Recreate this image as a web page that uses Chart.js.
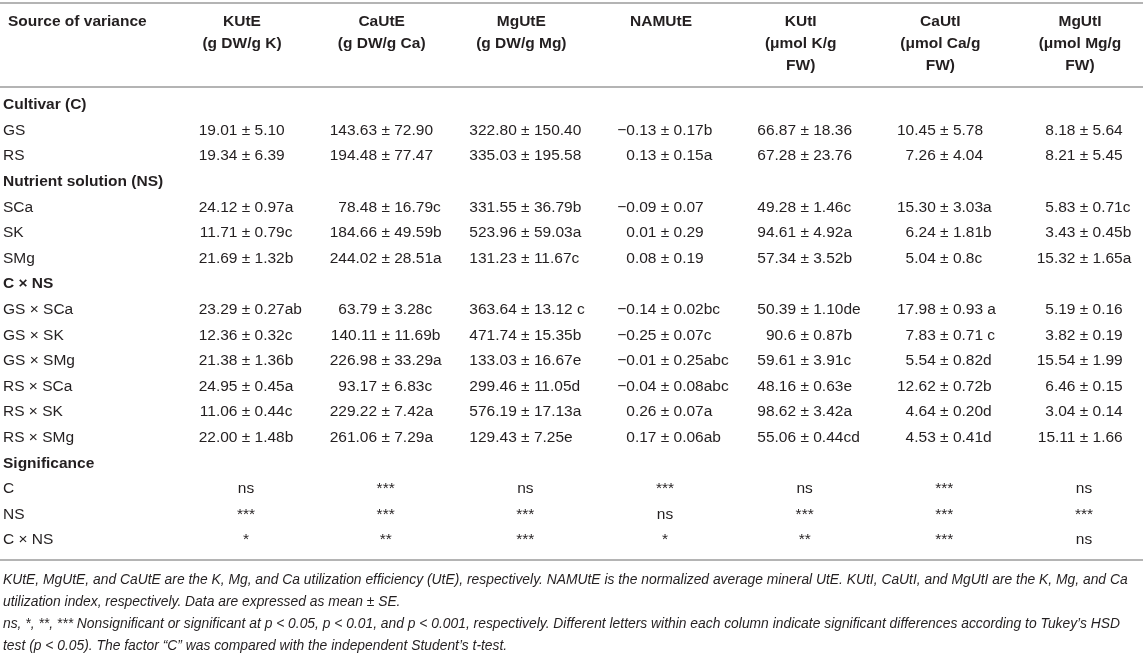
<!DOCTYPE html>
<html>
<head>
<meta charset="utf-8">
<script src="https://cdn.jsdelivr.net/npm/chart.js@4.4.0/dist/chart.umd.min.js"></script>
<style>
  body { margin: 0; background: #fff; }
  #wrap { width: 1143px; height: 667px; position: relative; }
</style>
</head>
<body>
<div id="wrap"><canvas id="tbl"></canvas></div>
<script>
// table content
var columns = ['KUtE', 'CaUtE', 'MgUtE', 'NAMUtE', 'KUtI', 'CaUtI', 'MgUtI'];
var headerLines = [
    ['KUtE', '(g DW/g K)'],
    ['CaUtE', '(g DW/g Ca)'],
    ['MgUtE', '(g DW/g Mg)'],
    ['NAMUtE'],
    ['KUtI', '(\u03bcmol K/g', 'FW)'],
    ['CaUtI', '(\u03bcmol Ca/g', 'FW)'],
    ['MgUtI', '(\u03bcmol Mg/g', 'FW)']
];
var rows = ['Cultivar (C)', 'GS', 'RS', 'Nutrient solution (NS)', 'SCa', 'SK', 'SMg', 'C \u00d7 NS',
    'GS \u00d7 SCa', 'GS \u00d7 SK', 'GS \u00d7 SMg', 'RS \u00d7 SCa', 'RS \u00d7 SK', 'RS \u00d7 SMg',
    'Significance', 'C', 'NS', 'C \u00d7 NS'];
var sectionRows = [0, 3, 7, 14];

var KUtE = [null, '19.01 ± 5.10', '19.34 ± 6.39', null, '24.12 ± 0.97a', '11.71 ± 0.79c', '21.69 ± 1.32b', null,
    '23.29 ± 0.27ab', '12.36 ± 0.32c', '21.38 ± 1.36b', '24.95 ± 0.45a', '11.06 ± 0.44c', '22.00 ± 1.48b', null,
    'ns', '***', '*'];
var CaUtE = [null, '143.63 ± 72.90', '194.48 ± 77.47', null, '78.48 ± 16.79c', '184.66 ± 49.59b', '244.02 ± 28.51a', null,
    '63.79 ± 3.28c', '140.11 ± 11.69b', '226.98 ± 33.29a', '93.17 ± 6.83c', '229.22 ± 7.42a', '261.06 ± 7.29a', null,
    '***', '***', '**'];
var MgUtE = [null, '322.80 ± 150.40', '335.03 ± 195.58', null, '331.55 ± 36.79b', '523.96 ± 59.03a', '131.23 ± 11.67c', null,
    '363.64 ± 13.12 c', '471.74 ± 15.35b', '133.03 ± 16.67e', '299.46 ± 11.05d', '576.19 ± 17.13a', '129.43 ± 7.25e', null,
    'ns', '***', '***'];
var NAMUtE = [null, '\u22120.13 ± 0.17b', '0.13 ± 0.15a', null, '\u22120.09 ± 0.07', '0.01 ± 0.29', '0.08 ± 0.19', null,
    '\u22120.14 ± 0.02bc', '\u22120.25 ± 0.07c', '\u22120.01 ± 0.25abc', '\u22120.04 ± 0.08abc', '0.26 ± 0.07a', '0.17 ± 0.06ab', null,
    '***', 'ns', '*'];
var KUtI = [null, '66.87 ± 18.36', '67.28 ± 23.76', null, '49.28 ± 1.46c', '94.61 ± 4.92a', '57.34 ± 3.52b', null,
    '50.39 ± 1.10de', '90.6 ± 0.87b', '59.61 ± 3.91c', '48.16 ± 0.63e', '98.62 ± 3.42a', '55.06 ± 0.44cd', null,
    'ns', '***', '**'];
var CaUtI = [null, '10.45 ± 5.78', '7.26 ± 4.04', null, '15.30 ± 3.03a', '6.24 ± 1.81b', '5.04 ± 0.8c', null,
    '17.98 ± 0.93 a', '7.83 ± 0.71 c', '5.54 ± 0.82d', '12.62 ± 0.72b', '4.64 ± 0.20d', '4.53 ± 0.41d', null,
    '***', '***', '***'];
var MgUtI = [null, '8.18 ± 5.64', '8.21 ± 5.45', null, '5.83 ± 0.71c', '3.43 ± 0.45b', '15.32 ± 1.65a', null,
    '5.19 ± 0.16', '3.82 ± 0.19', '15.54 ± 1.99', '6.46 ± 0.15', '3.04 ± 0.14', '15.11 ± 1.66', null,
    'ns', '***', 'ns'];
var columnValues = [KUtE, CaUtE, MgUtE, NAMUtE, KUtI, CaUtI, MgUtI];

var footnotes = [
    'KUtE, MgUtE, and CaUtE are the K, Mg, and Ca utilization efficiency (UtE), respectively. NAMUtE is the normalized average mineral UtE. KUtI, CaUtI, and MgUtI are the K, Mg, and Ca',
    'utilization index, respectively. Data are expressed as mean \u00b1 SE.',
    'ns, *, **, *** Nonsignificant or significant at p < 0.05, p < 0.01, and p < 0.001, respectively. Different letters within each column indicate significant differences according to Tukey\u2019s HSD',
    'test (p < 0.05). The factor \u201cC\u201d was compared with the independent Student\u2019s t-test.'
];

var textColor = '#231f20';
var ruleColor = '#b4b4b4';
var fontFamily = '"Liberation Sans", Arial, Helvetica, sans-serif';

// one point per filled cell, x = column index, y = row index (parsing is off)
function cellsFor(values, col) {
    var out = [];
    values.forEach(function(v, r) {
        if (v !== null) out.push({x: col, y: r, text: v});
    });
    return out;
}

var tablePlugin = {
    id: 'tableText',
    afterDatasetsDraw: function(chart) {
        var ctx = chart.ctx;
        var xs = chart.scales.x, ys = chart.scales.y;
        var area = chart.chartArea;
        ctx.save();
        ctx.fillStyle = textColor;
        ctx.textBaseline = 'middle';

        // rules
        ctx.strokeStyle = ruleColor;
        ctx.lineWidth = 2;
        [3, area.top - 5, area.bottom + 7].forEach(function(yy) {
            ctx.beginPath();
            ctx.moveTo(0, yy);
            ctx.lineTo(chart.width, yy);
            ctx.stroke();
        });

        // header
        ctx.font = 'bold 15.5px ' + fontFamily;
        ctx.textAlign = 'left';
        ctx.fillText('Source of variance', 8, 22);
        ctx.textAlign = 'center';
        headerLines.forEach(function(lines, c) {
            var cx = xs.getPixelForValue(c) - 4;
            lines.forEach(function(t, k) {
                ctx.fillText(t, cx, 22 + k * 22);
            });
        });

        // row labels
        rows.forEach(function(label, r) {
            var bold = sectionRows.indexOf(r) >= 0;
            ctx.font = (bold ? 'bold ' : '') + '15.5px ' + fontFamily;
            ctx.textAlign = 'left';
            ctx.fillText(label, 3, ys.getPixelForValue(r));
        });

        // cells, aligned on the ± sign
        ctx.font = '15.5px ' + fontFamily;
        var pm = ctx.measureText('\u00b1').width;
        var sp = ctx.measureText(' ').width;
        chart.data.datasets.forEach(function(ds, i) {
            chart.getDatasetMeta(i).data.forEach(function(pt, j) {
                var t = ds.data[j].text;
                var parts = t.split(' ± ');
                if (parts.length === 2) {
                    ctx.textAlign = 'right';
                    ctx.fillText(parts[0], pt.x - pm / 2 - sp, pt.y);
                    ctx.textAlign = 'center';
                    ctx.fillText('\u00b1', pt.x, pt.y);
                    ctx.textAlign = 'left';
                    ctx.fillText(parts[1], pt.x + pm / 2 + sp, pt.y);
                } else {
                    ctx.textAlign = 'center';
                    ctx.fillText(t, pt.x, pt.y);
                }
            });
        });

        // footnotes
        ctx.font = 'italic 13.85px ' + fontFamily;
        ctx.textAlign = 'left';
        footnotes.forEach(function(t, k) {
            ctx.fillText(t, 3, 580 + k * 22);
        });
        ctx.restore();
    }
};

var tableChart = new Chart(document.getElementById('tbl'), {
    type: 'scatter',
    data: {
        datasets: columnValues.map(function(vals, c) {
            return {
                label: columns[c],
                data: cellsFor(vals, c),
                pointRadius: 0,
                pointHoverRadius: 0
            };
        })
    },
    options: {
        responsive: true,
        maintainAspectRatio: false,
        animation: false,
        parsing: false,
        events: [],
        layout: { padding: { left: 246, right: 59, top: 92, bottom: 114 } },
        plugins: { legend: { display: false }, tooltip: { enabled: false } },
        scales: {
            x: { type: 'category', labels: columns, offset: false, display: false },
            y: { type: 'category', labels: rows, offset: true, display: false }
        }
    },
    plugins: [tablePlugin]
});
</script>
</body>
</html>
